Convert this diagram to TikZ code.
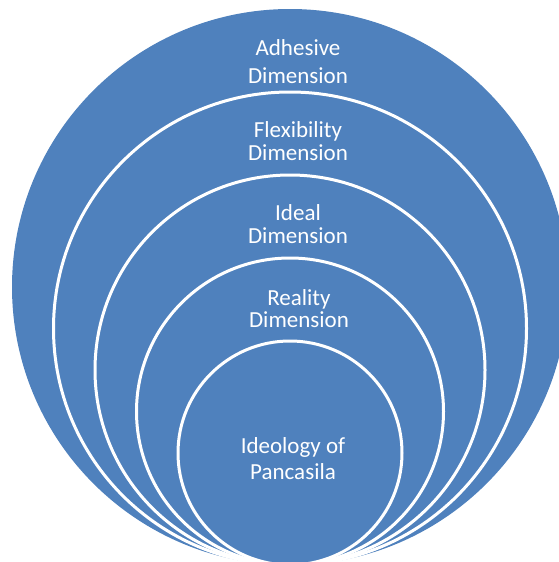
\documentclass[tikz,border=0pt]{standalone}
\usepackage{fontspec}
\setmainfont{Carlito}
\definecolor{ringblue}{RGB}{79,129,189}
\begin{document}
\begin{tikzpicture}[x=1pt,y=-1pt,
  ring/.style={fill=ringblue,draw=white,line width=3pt},
  lbl/.style={text=white,align=center,inner sep=0pt,anchor=base}]
\useasboundingbox (0,0) rectangle (559,562);
\clip (0,0) rectangle (559,562);
\fill[ringblue] (290,287) circle[radius=278];
\path[ring] (290,328.5) circle[radius=236.5];
\path[ring] (290,370) circle[radius=195];
\path[ring] (290,411.5) circle[radius=153.5];
\path[ring] (290,453) circle[radius=112];
\node[lbl,font=\fontsize{23}{28}\selectfont] (adh) at (298,83) {Adhesive\\Dimension};
\node[lbl,font=\fontsize{23}{22.7}\selectfont] (flx) at (298,160) {Flexibility\\Dimension};
\node[lbl,font=\fontsize{23}{23}\selectfont] (idl) at (298,243) {Ideal\\Dimension};
\node[lbl,font=\fontsize{23}{22}\selectfont] (rea) at (299,327) {Reality\\Dimension};
\node[lbl,font=\fontsize{23}{26}\selectfont] (ide) at (293,479) {Ideology of\\Pancasila};
\end{tikzpicture}
\end{document}
